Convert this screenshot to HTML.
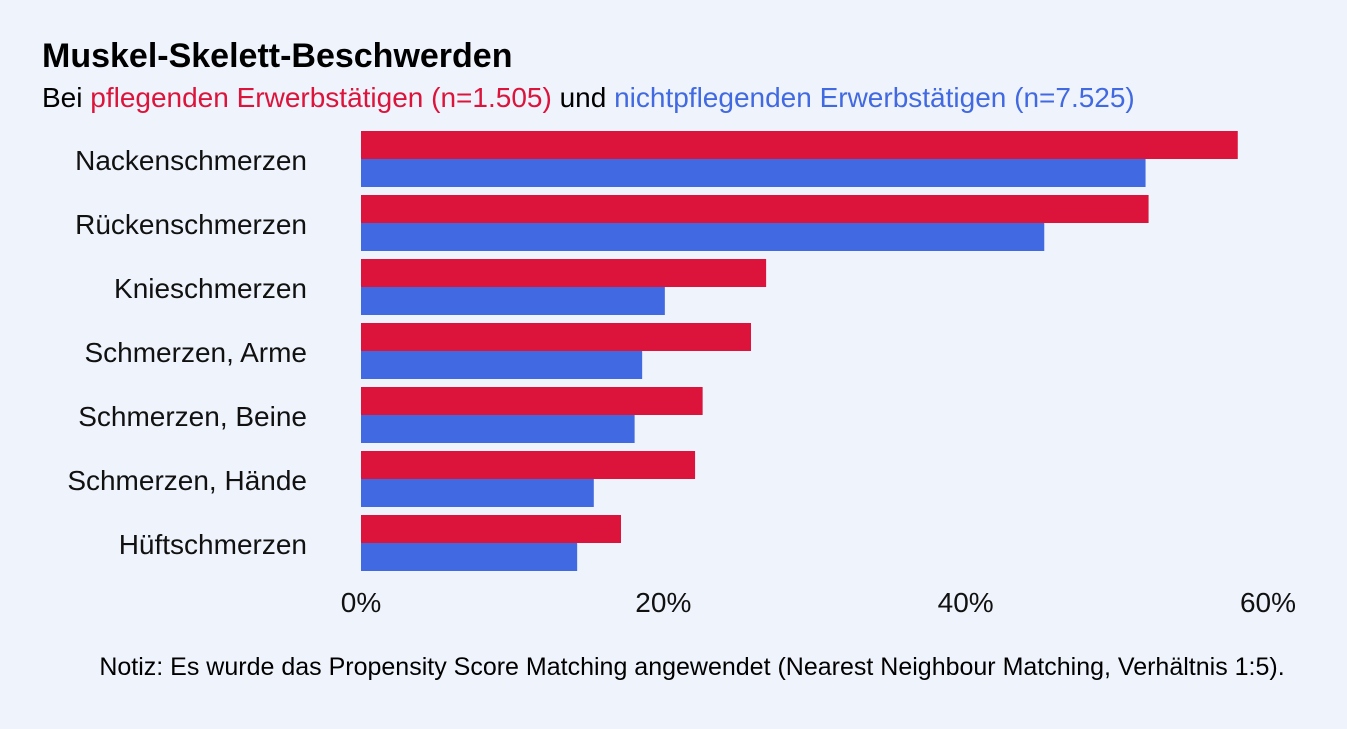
<!DOCTYPE html>
<html><head><meta charset="utf-8">
<style>
html,body{margin:0;padding:0;background:#eff4fc;}
body{width:1347px;height:724px;overflow:hidden;font-family:"Liberation Sans",sans-serif;}
</style></head>
<body>
<svg id="chart" width="1347" height="724" xmlns="http://www.w3.org/2000/svg">
<rect width="1347" height="724" fill="#eff4fc"/>
<text x="42" y="67" font-size="34" font-weight="bold" fill="#000">Muskel-Skelett-Beschwerden</text>
<text x="42" y="107" font-size="28" fill="#000">Bei <tspan fill="#DC143C">pflegenden Erwerbstätigen (n=1.505)</tspan> und <tspan fill="#4169E1">nichtpflegenden Erwerbstätigen (n=7.525)</tspan></text>
<g id="bars"></g>
<g id="ticks"></g>
<text x="692" y="675" font-size="25" text-anchor="middle" fill="#000">Notiz: Es wurde das Propensity Score Matching angewendet (Nearest Neighbour Matching, Verhältnis 1:5).</text>
</svg>
<script>
const categories = ["Nackenschmerzen","Rückenschmerzen","Knieschmerzen","Schmerzen, Arme","Schmerzen, Beine","Schmerzen, Hände","Hüftschmerzen"];
const pflegend = [58.0,52.1,26.8,25.8,22.6,22.1,17.2];
const nichtpflegend = [51.9,45.2,20.1,18.6,18.1,15.4,14.3];
const tickValues = [0,20,40,60];
const tickLabels = ["0%","20%","40%","60%"];

const NS="http://www.w3.org/2000/svg";
const x0=361, x60=1268;
function xScale(v){return x0+(x60-x0)*v/60;}
function yScale(i){return 131+i*64;}
const bars=document.getElementById('bars');
const ticks=document.getElementById('ticks');
function mk(tag,attrs){const e=document.createElementNS(NS,tag);for(const k in attrs)e.setAttribute(k,attrs[k]);return e;}
categories.forEach((c,i)=>{
  const y=yScale(i);
  const r=mk('rect',{x:x0,y:y,width:xScale(pflegend[i])-x0,height:28,fill:'#DC143C'});
  
  
  bars.appendChild(r);
  const b=mk('rect',{x:x0,y:y+28,width:xScale(nichtpflegend[i])-x0,height:28,fill:'#4169E1'});
  
  
  bars.appendChild(b);
  const t=mk('text',{x:307,y:y+39,'font-size':28,'text-anchor':'end',fill:'#111'});
  t.textContent=c;
  
  
  bars.appendChild(t);
});
tickValues.forEach((v,i)=>{
  const t=mk('text',{x:xScale(v),y:612,'font-size':28,'text-anchor':'middle',fill:'#111'});
  t.textContent=tickLabels[i];
  
  
  ticks.appendChild(t);
});
</script>
</body></html>
